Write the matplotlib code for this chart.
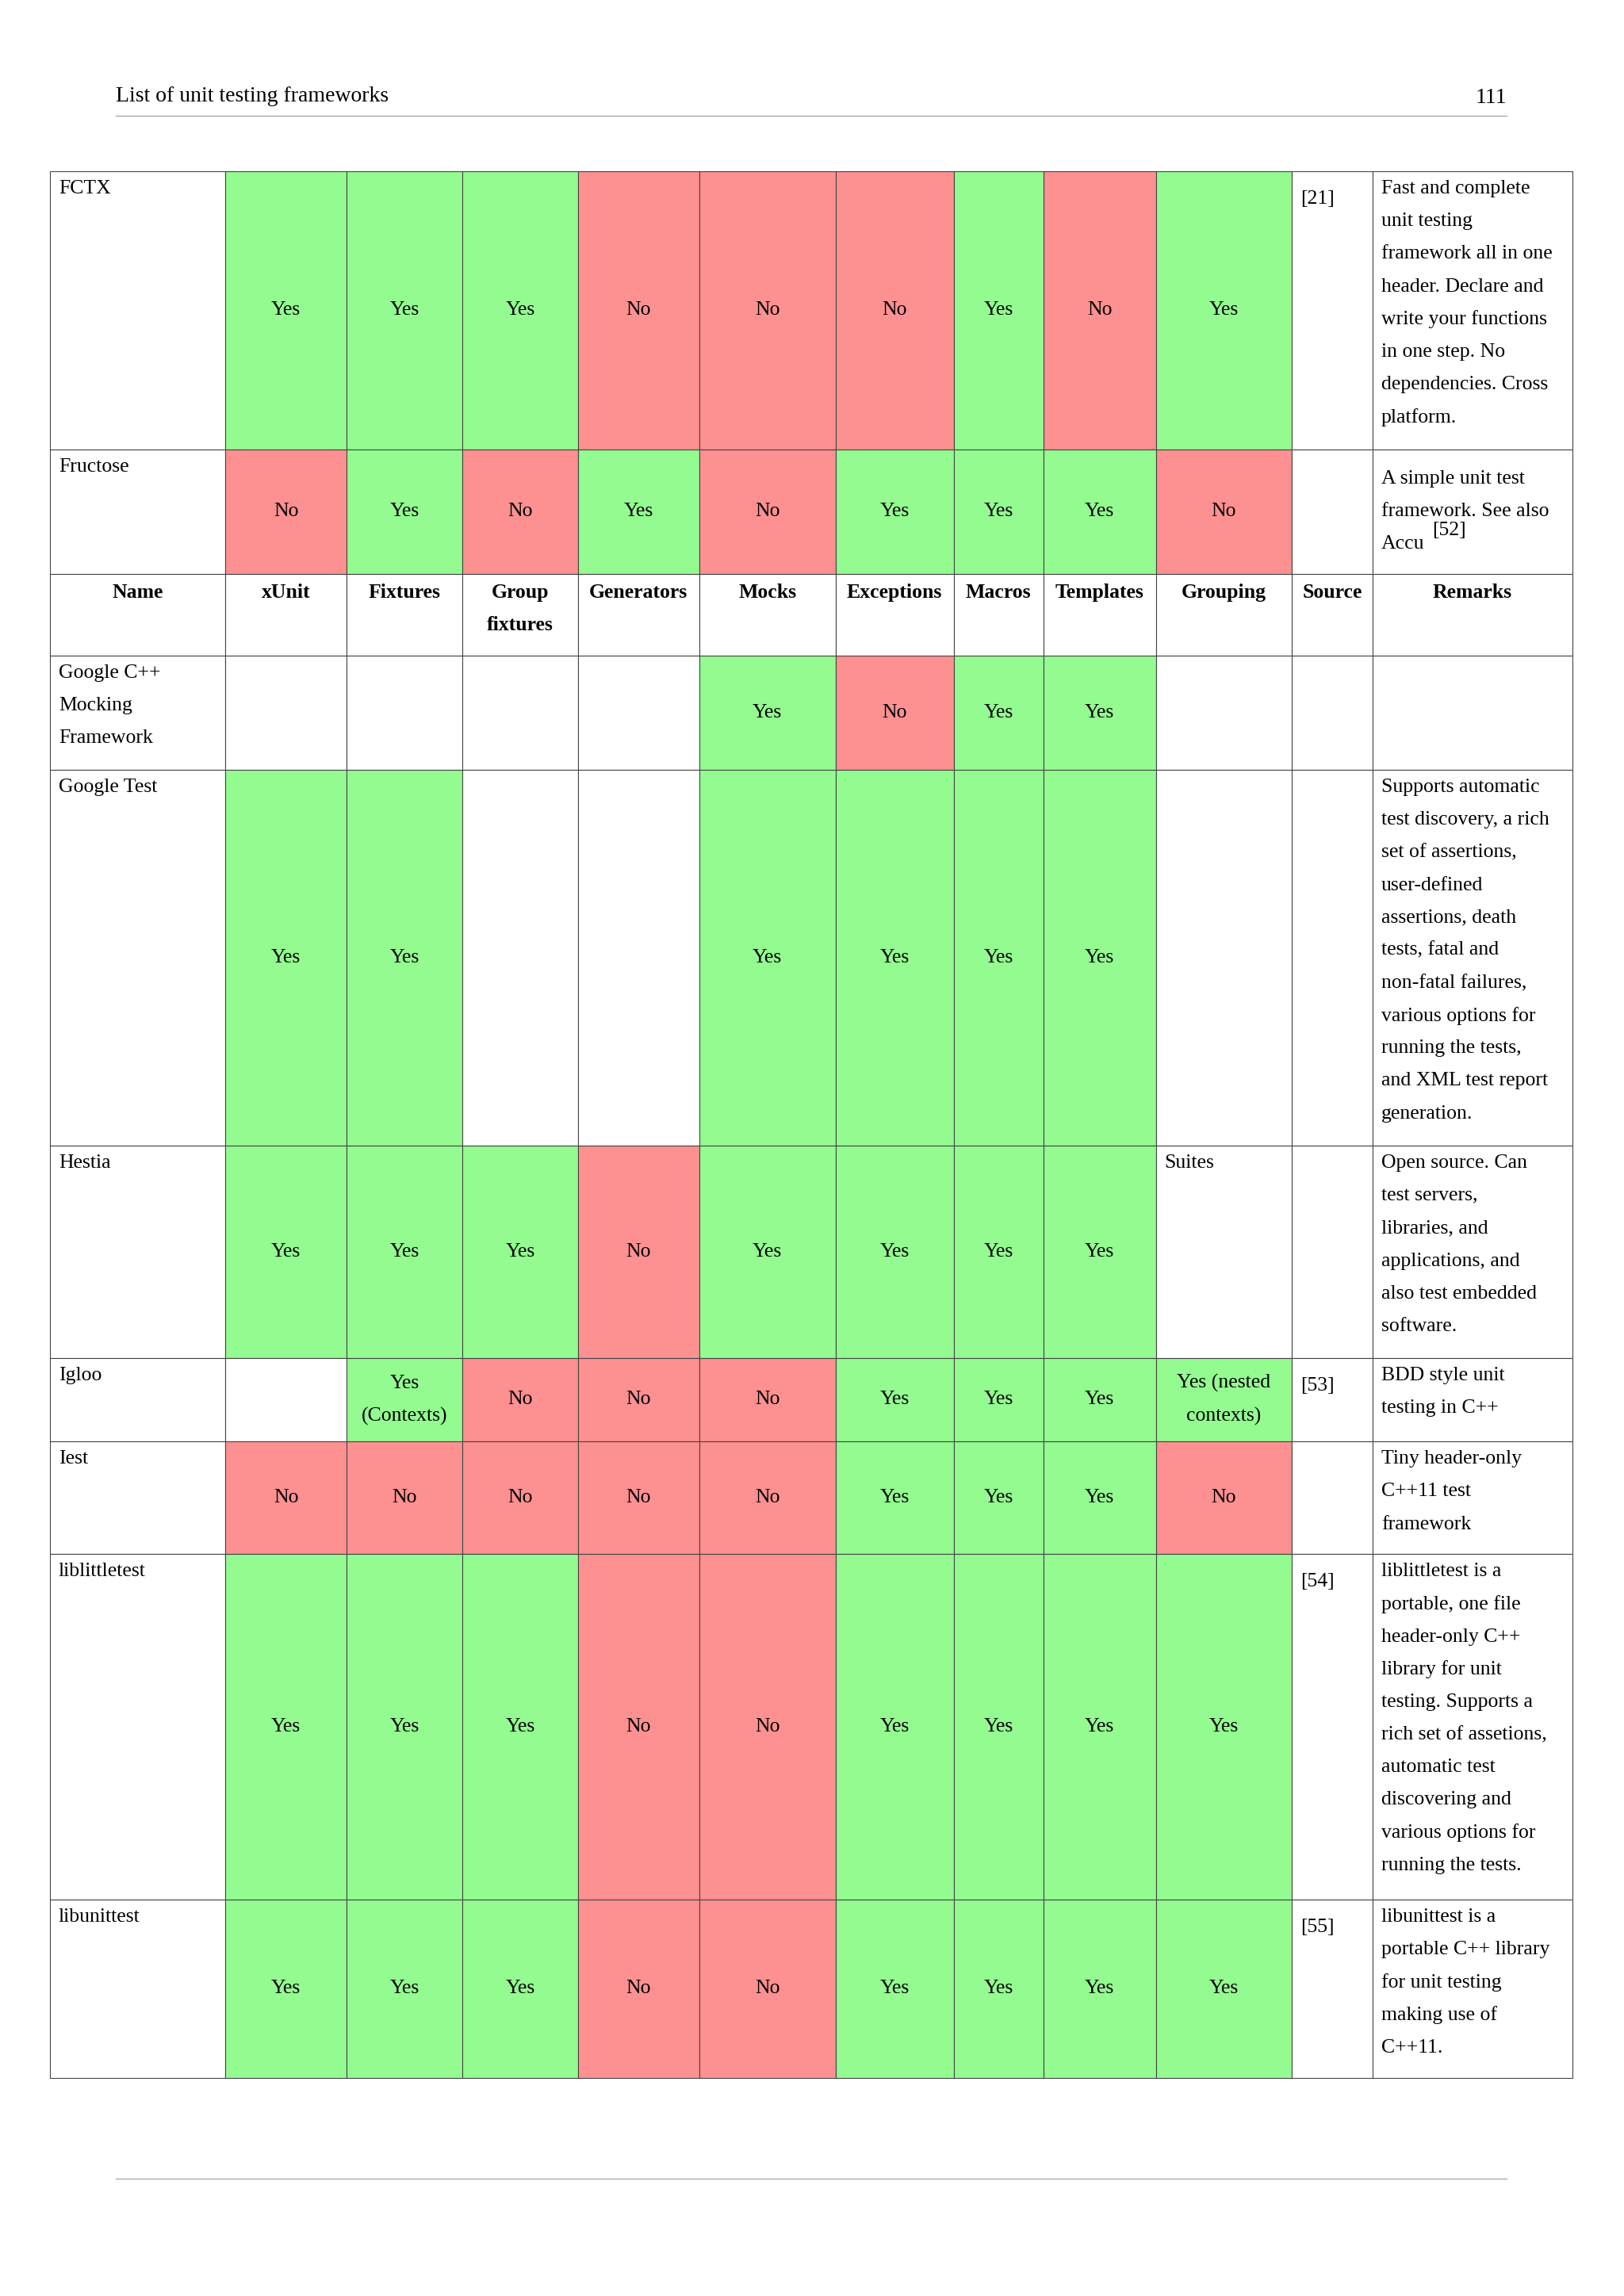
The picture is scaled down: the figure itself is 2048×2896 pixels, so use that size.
import matplotlib
matplotlib.use("Agg")
import matplotlib.pyplot as plt
from matplotlib.patches import Rectangle

FONT = ["Liberation Serif", "DejaVu Serif"]
GREEN = "#93fb90"
RED = "#fd9090"

headers = ["Name", "xUnit", "Fixtures", "Group\nfixtures", "Generators", "Mocks",
           "Exceptions", "Macros", "Templates", "Grouping", "Source", "Remarks"]
col_edges = [34, 154, 237, 316, 395, 478, 571, 652, 713, 790, 883, 938, 1075]
row_edges = [117, 307, 392, 448, 526, 783, 928, 985, 1062, 1298, 1420]

names = ["FCTX", "Fructose", None, "Google C++\nMocking\nFramework", "Google Test",
         "Hestia", "Igloo", "Iest", "liblittletest", "libunittest"]
cells = [
    ["Yes", "Yes", "Yes", "No", "No", "No", "Yes", "No", "Yes"],
    ["No", "Yes", "No", "Yes", "No", "Yes", "Yes", "Yes", "No"],
    None,
    ["", "", "", "", "Yes", "No", "Yes", "Yes", ""],
    ["Yes", "Yes", "", "", "Yes", "Yes", "Yes", "Yes", ""],
    ["Yes", "Yes", "Yes", "No", "Yes", "Yes", "Yes", "Yes", "Suites"],
    ["", "Yes\n(Contexts)", "No", "No", "No", "Yes", "Yes", "Yes", "Yes (nested\ncontexts)"],
    ["No", "No", "No", "No", "No", "Yes", "Yes", "Yes", "No"],
    ["Yes", "Yes", "Yes", "No", "No", "Yes", "Yes", "Yes", "Yes"],
    ["Yes", "Yes", "Yes", "No", "No", "Yes", "Yes", "Yes", "Yes"],
]
sources = ["[21]", "", None, "", "", "", "[53]", "", "[54]", "[55]"]
remarks = [
    "Fast and complete\nunit testing\nframework all in one\nheader. Declare and\nwrite your functions\nin one step. No\ndependencies. Cross\nplatform.",
    "A simple unit test\nframework. See also\nAccu",
    None,
    "",
    "Supports automatic\ntest discovery, a rich\nset of assertions,\nuser-defined\nassertions, death\ntests, fatal and\nnon-fatal failures,\nvarious options for\nrunning the tests,\nand XML test report\ngeneration.",
    "Open source. Can\ntest servers,\nlibraries, and\napplications, and\nalso test embedded\nsoftware.",
    "BDD style unit\ntesting in C++",
    "Tiny header-only\nC++11 test\nframework",
    "liblittletest is a\nportable, one file\nheader-only C++\nlibrary for unit\ntesting. Supports a\nrich set of assetions,\nautomatic test\ndiscovering and\nvarious options for\nrunning the tests.",
    "libunittest is a\nportable C++ library\nfor unit testing\nmaking use of\nC++11.",
]

W, H = 1110, 1569
fig = plt.figure(figsize=(20.48, 28.96), dpi=100)
ax = fig.add_axes([0, 0, 1, 1])
ax.set_xlim(0, W)
ax.set_ylim(H, 0)
ax.axis("off")

FS = 18.5
LS = 22.3

def lines(x, y, s, ha="left", bold=False, center=False):
    ls = s.split("\n")
    if center:
        y = y - LS * (len(ls) - 1) / 2
    for i, l in enumerate(ls):
        ax.text(x, y + i * LS, l, ha=ha, va="center", fontsize=FS, family=FONT,
                fontweight="bold" if bold else "normal", color="black")

# page header / footer
ax.text(79, 66, "List of unit testing frameworks", fontsize=20, family=FONT, va="center")
ax.text(1030, 67, "111", fontsize=20, family=FONT, va="center", ha="right")
ax.plot([79, 1030], [79, 79], color="#aaaaaa", lw=1)
ax.plot([79, 1030], [1489, 1489], color="#aaaaaa", lw=1)

for r in range(len(names)):
    top, bot = row_edges[r], row_edges[r + 1]
    mid = (top + bot) / 2
    if cells[r] is None:
        for c, h in enumerate(headers):
            l, rr = col_edges[c], col_edges[c + 1]
            ax.add_patch(Rectangle((l, top), rr - l, bot - top, fc="white", ec="#444444", lw=0.8))
            lines((l + rr) / 2, top + 13, h, ha="center", bold=True)
        continue
    # name
    ax.add_patch(Rectangle((col_edges[0], top), col_edges[1] - col_edges[0], bot - top,
                           fc="white", ec="#444444", lw=0.8))
    lines(col_edges[0] + 6, top + 12, names[r])
    for c, v in enumerate(cells[r]):
        l, rr = col_edges[c + 1], col_edges[c + 2]
        fc = GREEN if v.startswith("Yes") else (RED if v.startswith("No") else "white")
        ax.add_patch(Rectangle((l, top), rr - l, bot - top, fc=fc, ec="#444444", lw=0.8))
        if v and fc != "white":
            lines((l + rr) / 2, mid, v, ha="center", center=True)
        elif v:
            lines(l + 6, top + 12, v)
    l, rr = col_edges[10], col_edges[11]
    ax.add_patch(Rectangle((l, top), rr - l, bot - top, fc="white", ec="#444444", lw=0.8))
    if sources[r]:
        lines(l + 6, top + 19, sources[r])
    l, rr = col_edges[11], col_edges[12]
    ax.add_patch(Rectangle((l, top), rr - l, bot - top, fc="white", ec="#444444", lw=0.8))
    if remarks[r]:
        y0 = top + 12 if names[r] != "Fructose" else top + 20
        lines(l + 6, y0, remarks[r])
        if names[r] == "Fructose":
            ax.text(l + 41, y0 + 2 * LS - 9, "[52]", fontsize=FS, family=FONT, va="center")

fig.savefig("out.png", dpi=100, facecolor="white")
